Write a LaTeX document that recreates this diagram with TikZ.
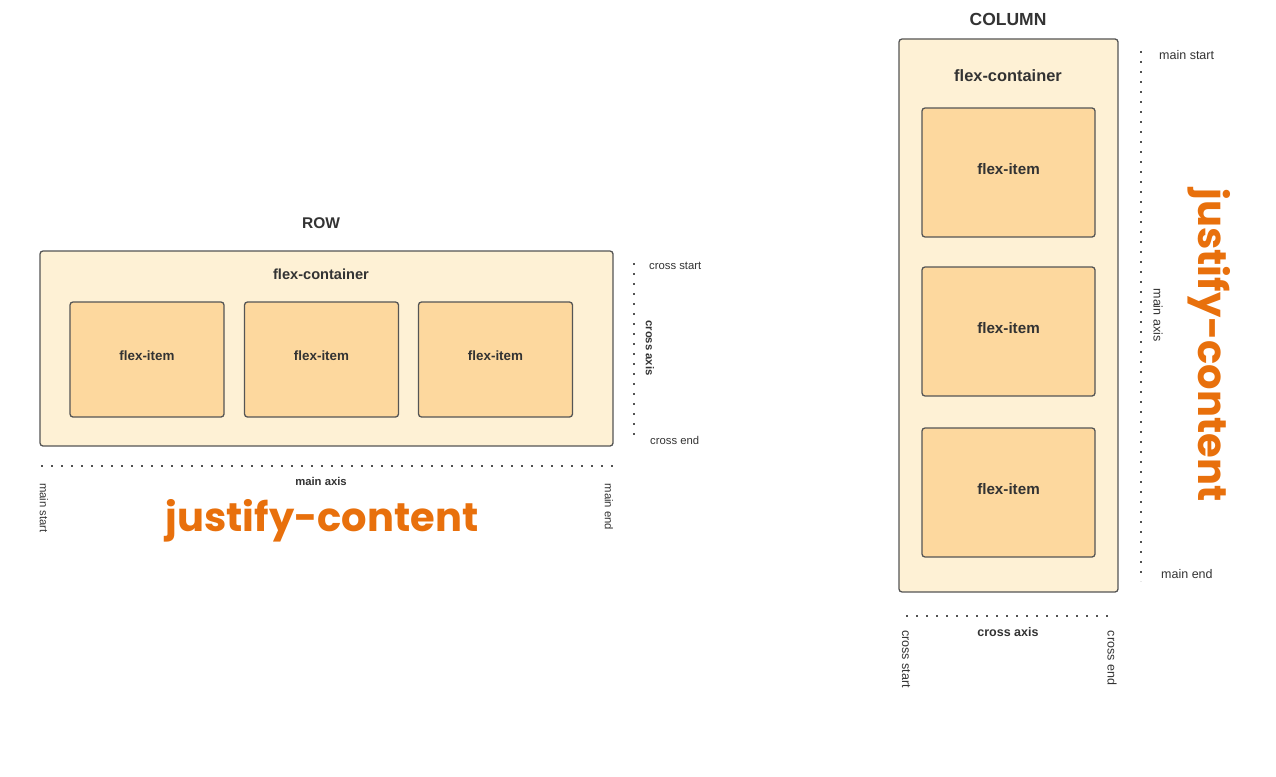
\documentclass[tikz,border=0pt]{standalone}
\usepackage{fontspec}
\setmainfont{Liberation Sans}
\newfontfamily\popfont{Poppins}
\definecolor{cream}{HTML}{FEF1D5}
\definecolor{peach}{HTML}{FDD89E}
\definecolor{edge}{HTML}{555555}
\definecolor{ink}{HTML}{333333}
\definecolor{jcorange}{HTML}{E8700C}
\begin{document}
\begin{tikzpicture}[x=1pt,y=-1pt,
  boxc/.style={draw=edge, line width=1.3pt, fill=cream, rounded corners=3pt, inner sep=0pt},
  boxi/.style={draw=edge, line width=1.3pt, fill=peach, rounded corners=3pt, inner sep=0pt},
  ttl/.style={text=ink, font=\bfseries, inner sep=0pt},
  small/.style={text=ink, inner sep=0pt, font=\fontsize{11.3}{13}\selectfont},
  smallb/.style={text=ink, inner sep=0pt, font=\fontsize{11.3}{13}\selectfont\bfseries},
  colsm/.style={text=ink, inner sep=0pt, font=\fontsize{12.5}{14}\selectfont},
  colsmb/.style={text=ink, inner sep=0pt, font=\fontsize{12.5}{14}\selectfont\bfseries},
  dots/.style={draw=ink!85, line width=2pt, dash pattern=on 2pt off 8pt},
  jc/.style={text=jcorange, inner sep=0pt, font=\fontsize{40}{46}\selectfont\popfont\bfseries}
]
\useasboundingbox (0,0) rectangle (1276,776);
% ---------- ROW ----------
\node[ttl, font=\fontsize{15.5}{18}\selectfont\bfseries] (rowtitle) at (321,223) {ROW};
\node[boxc, minimum width=573pt, minimum height=195pt] (rowc) at (326.5,348.5) {};
\node[ttl, font=\fontsize{14.6}{17}\selectfont\bfseries] (rowct) at (321,274) {flex-container};
\node[boxi, minimum width=154pt, minimum height=115pt] (ri1) at (147,359.5) {};
\node[boxi, minimum width=154pt, minimum height=115pt] (ri2) at (321.5,359.5) {};
\node[boxi, minimum width=154pt, minimum height=115pt] (ri3) at (495.5,359.5) {};
\node[ttl, font=\fontsize{13.4}{16}\selectfont\bfseries] (ri1t) at (147,356) {flex-item};
\node[ttl, font=\fontsize{13.4}{16}\selectfont\bfseries] (ri2t) at (321.5,356) {flex-item};
\node[ttl, font=\fontsize{13.4}{16}\selectfont\bfseries] (ri3t) at (495.5,356) {flex-item};
\coordinate (rcs) at (634,263);
\coordinate (rce) at (634,437);
\draw[dots] (rcs) -- (rce);
\node[small, anchor=west] (rcstart) at (649,266) {cross start};
\node[small, anchor=west] (rcend) at (650,440) {cross end};
\node[smallb, rotate=-90] (rcaxis) at (650,348) {cross axis};
\coordinate (rms) at (41,466);
\coordinate (rme) at (613,466);
\draw[dots] (rms) -- (rme);
\node[smallb] (rmaxis) at (321,481) {main axis};
\node[small, rotate=-90] (rmstart) at (44,508) {main start};
\node[small, rotate=-90] (rmend) at (609,507) {main end};
\node[jc] (rjc) at (322,521) {justify-content};
% ---------- COLUMN ----------
\node[ttl, font=\fontsize{17.5}{20}\selectfont\bfseries] (coltitle) at (1008,19) {COLUMN};
\node[boxc, minimum width=219pt, minimum height=553pt] (colc) at (1008.5,315.5) {};
\node[ttl, font=\fontsize{16.4}{19}\selectfont\bfseries] (colct) at (1008,76) {flex-container};
\node[boxi, minimum width=173pt, minimum height=129pt] (ci1) at (1008.5,172.5) {};
\node[boxi, minimum width=173pt, minimum height=129pt] (ci2) at (1008.5,331.5) {};
\node[boxi, minimum width=173pt, minimum height=129pt] (ci3) at (1008.5,492.5) {};
\node[ttl, font=\fontsize{15.2}{18}\selectfont\bfseries] (ci1t) at (1008.5,169) {flex-item};
\node[ttl, font=\fontsize{15.2}{18}\selectfont\bfseries] (ci2t) at (1008.5,328) {flex-item};
\node[ttl, font=\fontsize{15.2}{18}\selectfont\bfseries] (ci3t) at (1008.5,489) {flex-item};
\coordinate (cms) at (1141,51);
\coordinate (cme) at (1141,581);
\draw[dots] (cms) -- (cme);
\node[colsm, anchor=west] (cmstart) at (1159,55) {main start};
\node[colsm, anchor=west] (cmend) at (1161,574) {main end};
\node[colsm, rotate=-90] (cmaxis) at (1158,315) {main axis};
\node[jc, rotate=-90] (cjc) at (1209,345) {justify-content};
\coordinate (ccs) at (906,616);
\coordinate (cce) at (1112,616);
\draw[dots] (ccs) -- (cce);
\node[colsmb] (ccaxis) at (1008,632) {cross axis};
\node[colsm, rotate=-90] (ccstart) at (906,659) {cross start};
\node[colsm, rotate=-90] (ccend) at (1112,658) {cross end};
\end{tikzpicture}
\end{document}
